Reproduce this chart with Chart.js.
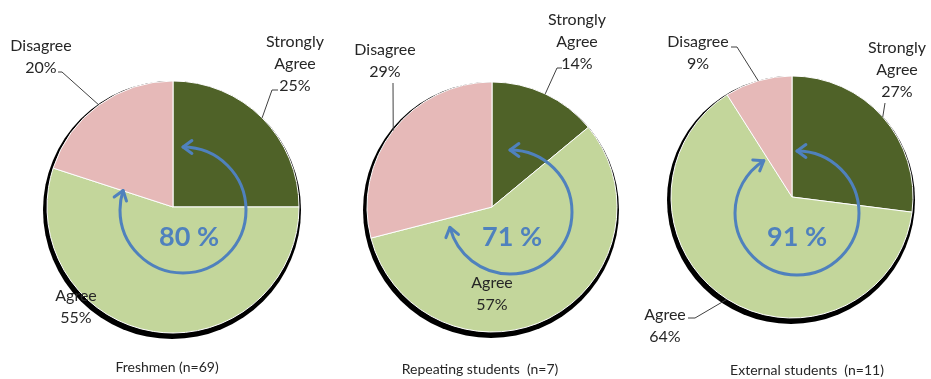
<!DOCTYPE html>
<html>
<head>
<meta charset="utf-8">
<script src="https://cdn.jsdelivr.net/npm/chart.js@4/dist/chart.umd.min.js"></script>
<style>
  body { margin: 0; background: #fff; }
  .pie { position: absolute; top: 0; height: 379px; }
</style>
</head>
<body>
<div class="pie" style="left:0;width:346px"><canvas id="pieFreshmen"></canvas></div>
<div class="pie" style="left:320px;width:310px"><canvas id="pieRepeating"></canvas></div>
<div class="pie" style="left:630px;width:301px"><canvas id="pieExternal"></canvas></div>
<script>
// answers per group, in percent
var categories = ['Strongly Agree', 'Agree', 'Disagree'];
var sliceColors = ['#4f6228', '#c3d69b', '#e6b9b8'];
var groupTitles = ['Freshmen (n=69)', 'Repeating students  (n=7)', 'External students  (n=11)'];
var freshmenShares = [25, 55, 20];
var repeatingShares = [14, 57, 29];
var externalShares = [27, 64, 9];

var FONT = 'Lato, "Open Sans", sans-serif';
var BLUE = '#4f81bd';

// per-chart placement of labels, arrow and caption (offsets from the pie centre)
var layouts = {
  pieFreshmen: {
    titleDx: -6, titleY: 367, arrow: [10, 3, 63], text: [6, 27],
    labels: [
      { tx: 122, ty: -165, leader: [[105, -117], [99, -117]] },
      { tx: -97, ty: 89, leader: null },
      { tx: -132, ty: -161, leader: [[-115, -135], [-111, -135]] }
    ]
  },
  pieRepeating: {
    titleDx: -12, titleY: 369, arrow: [18, 5, 62], text: [2, 25],
    labels: [
      { tx: 85, ty: -187, leader: [[70, -139], [65, -139]] },
      { tx: 0, ty: 76, leader: null },
      { tx: -107, ty: -157, leader: [[-99, -124]] }
    ]
  },
  pieExternal: {
    titleDx: 15, titleY: 370, arrow: [5, 16, 62], text: [0, 24],
    labels: [
      { tx: 105, ty: -149, leader: [[93, -94]] },
      { tx: -127, ty: 118, leader: [[-104, 121], [-97, 121]] },
      { tx: -94, ty: -155, leader: [[-61, -150], [-55, -150]] }
    ]
  }
};

function drawChevron(ctx, px, py, dx, dy, len) {
  // open arrow head pointing along (dx,dy)
  var a = Math.PI / 5;
  ctx.beginPath();
  ctx.moveTo(px - len * (dx * Math.cos(a) - dy * Math.sin(a)), py - len * (dx * Math.sin(a) + dy * Math.cos(a)));
  ctx.lineTo(px, py);
  ctx.lineTo(px - len * (dx * Math.cos(-a) - dy * Math.sin(-a)), py - len * (dx * Math.sin(-a) + dy * Math.cos(-a)));
  ctx.stroke();
}

// black rim under the pie, a little lower than the slices
var pieRim = {
  id: 'pieRim',
  beforeDatasetDraw: function (chart, args) {
    var el = args.meta.data[0];
    if (!el) return;
    var ctx = chart.ctx;
    ctx.save();
    ctx.fillStyle = '#000000';
    ctx.beginPath();
    ctx.arc(el.x - 1, el.y + 3, el.outerRadius + 3, 0, Math.PI * 2);
    ctx.closePath();
    ctx.fill();
    ctx.restore();
  }
};
Chart.register(pieRim);

var pieDecor = {
  id: 'pieDecor',
  afterDatasetsDraw: function (chart) {
    var lay = layouts[chart.canvas.id];
    var ctx = chart.ctx;
    var meta = chart.getDatasetMeta(0);
    var values = chart.data.datasets[0].data;
    var cx = meta.data[0].x, cy = meta.data[0].y;
    ctx.save();

    // slice labels + leader lines
    ctx.font = '16px ' + FONT;
    ctx.fillStyle = '#262626';
    ctx.textAlign = 'center';
    ctx.textBaseline = 'middle';
    meta.data.forEach(function (el, i) {
      var lab = lay.labels[i];
      var lines = chart.data.labels[i].split(' ');
      lines.push(values[i] + '%');
      lines.forEach(function (t, k) {
        ctx.fillText(t, cx + lab.tx, cy + lab.ty + k * 22);
      });
      if (lab.leader) {
        var mid = (el.startAngle + el.endAngle) / 2;
        ctx.strokeStyle = '#404040';
        ctx.lineWidth = 1;
        ctx.beginPath();
        lab.leader.forEach(function (p, k) {
          if (k === 0) ctx.moveTo(cx + p[0], cy + p[1]);
          else ctx.lineTo(cx + p[0], cy + p[1]);
        });
        ctx.lineTo(cx + el.outerRadius * Math.cos(mid), cy + el.outerRadius * Math.sin(mid));
        ctx.stroke();
      }
    });

    // circular arrow showing the agree share
    var agree = values[0] + values[1];
    var ax = cx + lay.arrow[0], ay = cy + lay.arrow[1], r = lay.arrow[2];
    var a0 = -Math.PI / 2;
    var a1 = a0 + agree / 100 * Math.PI * 2;
    ctx.strokeStyle = BLUE;
    ctx.lineWidth = 3;
    ctx.lineCap = 'round';
    ctx.lineJoin = 'round';
    ctx.beginPath();
    ctx.arc(ax, ay, r, a0, a1);
    ctx.stroke();
    drawChevron(ctx, ax + r * Math.cos(a0), ay + r * Math.sin(a0), Math.sin(a0), -Math.cos(a0), 11);
    drawChevron(ctx, ax + r * Math.cos(a1), ay + r * Math.sin(a1), -Math.sin(a1), Math.cos(a1), 11);

    ctx.fillStyle = BLUE;
    ctx.font = 'bold 27px ' + FONT;
    ctx.fillText(agree + ' %', ax + lay.text[0], ay + lay.text[1]);

    // group title under the pie
    ctx.fillStyle = '#262626';
    ctx.font = '14px ' + FONT;
    ctx.fillText(chart.options.plugins.title.text, cx + lay.titleDx, lay.titleY);
    ctx.restore();
  }
};

function makePie(id, title, shares, radius, padding) {
  return new Chart(document.getElementById(id), {
    type: 'pie',
    data: {
      labels: categories,
      datasets: [{
        data: shares,
        backgroundColor: sliceColors,
        borderColor: '#fff',
        borderWidth: 1,
        radius: radius
      }]
    },
    options: {
      responsive: true,
      maintainAspectRatio: false,
      animation: false,
      layout: { padding: padding },
      plugins: {
        legend: { display: false },
        title: { display: false, text: title }
      }
    },
    plugins: [pieDecor]
  });
}

makePie('pieFreshmen', groupTitles[0], freshmenShares, 126, { top: 35 });
makePie('pieRepeating', groupTitles[1], repeatingShares, 125, { left: 34, top: 35 });
makePie('pieExternal', groupTitles[2], externalShares, 121, { left: 23, top: 15 });
</script>
</body>
</html>
